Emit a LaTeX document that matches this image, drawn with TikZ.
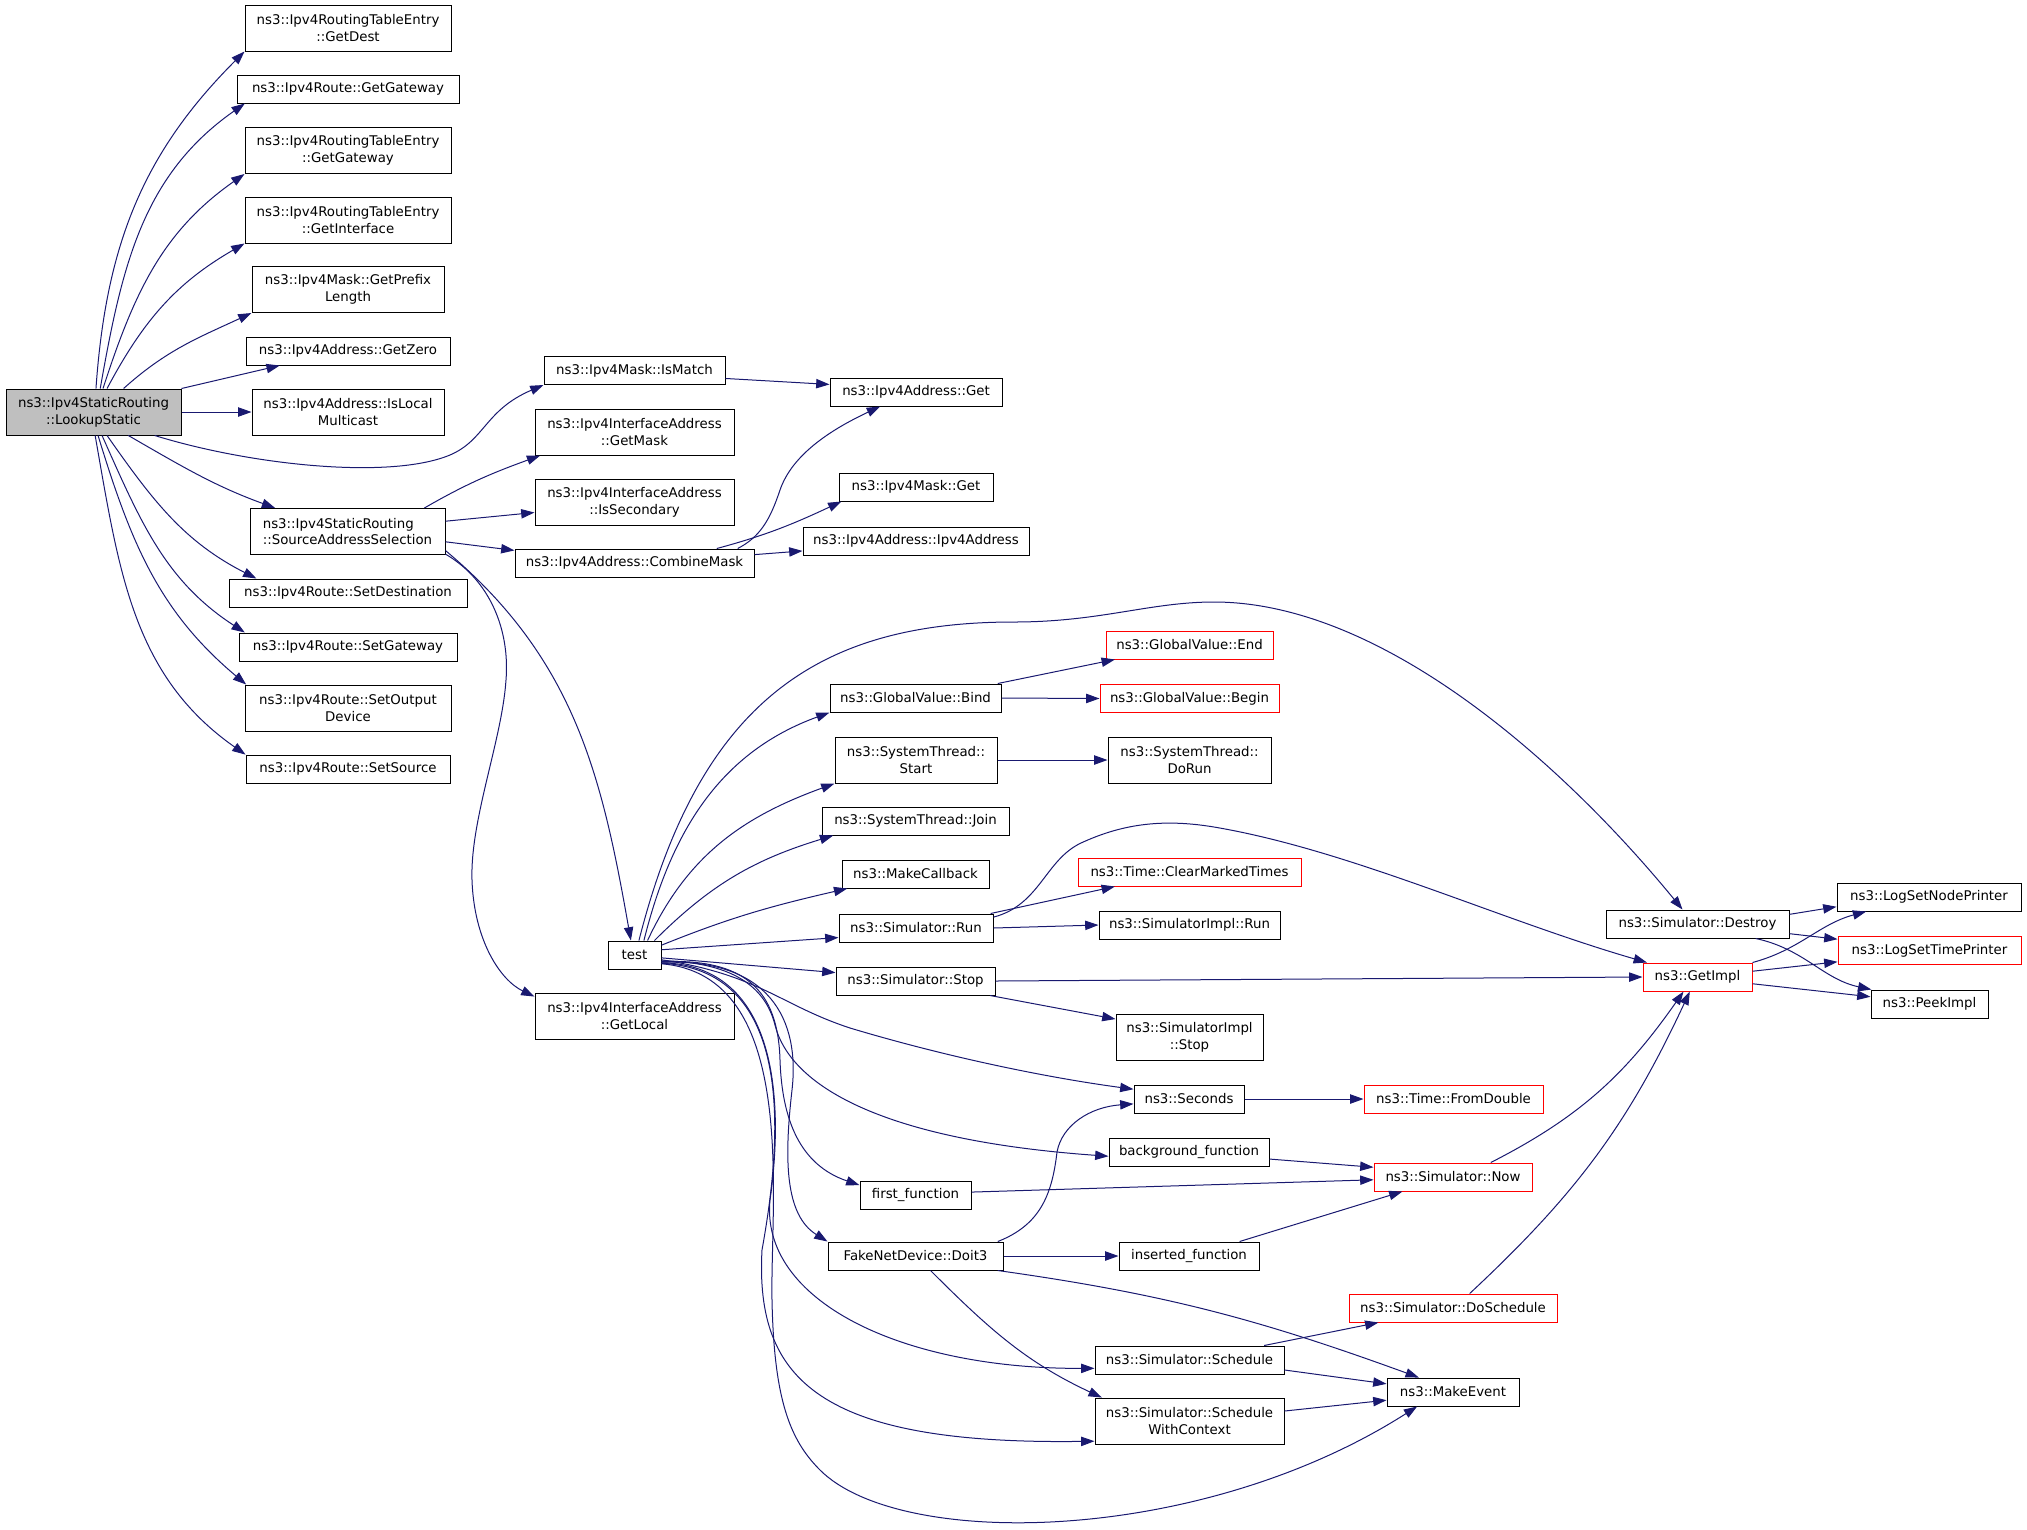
\documentclass[tikz,border=0pt]{standalone}
\usepackage{fontspec}
\setmainfont{DejaVu Sans}
\usetikzlibrary{arrows.meta}
\definecolor{edgeblue}{HTML}{191970}
\definecolor{warnred}{HTML}{FF0000}
\definecolor{rootgray}{HTML}{BFBFBF}
\begin{document}
\begin{tikzpicture}[x=0.75pt,y=0.75pt,
    fn/.style={draw=black,line width=0.75pt,inner sep=0pt,align=center,
      font=\fontsize{10}{12.5}\selectfont,minimum height=21pt},
    two/.style={minimum height=34.5pt},
    bw/.style={minimum width=#1*0.75pt},
    warn/.style={draw=warnred},
    root/.style={fill=rootgray},
    call/.style={draw=edgeblue,line width=0.75pt,-{Triangle[length=10pt,width=7pt]}}]
  \useasboundingbox (0,0) rectangle (2027,-1529);

  \node[fn,root,two,bw=175] (lookup) at (93.5,-412) {ns3::Ipv4StaticRouting\\::LookupStatic};
  \node[fn,two,bw=206] (getdest) at (348,-28) {ns3::Ipv4RoutingTableEntry\\::GetDest};
  \node[fn,bw=222] (rgw) at (348,-89) {ns3::Ipv4Route::GetGateway};
  \node[fn,two,bw=206] (rtegw) at (348,-150.5) {ns3::Ipv4RoutingTableEntry\\::GetGateway};
  \node[fn,two,bw=206] (getif) at (348,-220) {ns3::Ipv4RoutingTableEntry\\::GetInterface};
  \node[fn,two,bw=192] (prefix) at (348,-289.5) {ns3::Ipv4Mask::GetPrefix\\Length};
  \node[fn,bw=204] (getzero) at (348,-351) {ns3::Ipv4Address::GetZero};
  \node[fn,two,bw=192] (islocal) at (348,-412) {ns3::Ipv4Address::IsLocal\\Multicast};
  \node[fn,two,bw=195,align=left] (srcsel) at (347.5,-531.5) {ns3::Ipv4StaticRouting\\::SourceAddressSelection};
  \node[fn,bw=238] (setdest) at (348,-593) {ns3::Ipv4Route::SetDestination};
  \node[fn,bw=218] (setgw) at (348,-647) {ns3::Ipv4Route::SetGateway};
  \node[fn,two,bw=206] (setout) at (348,-708) {ns3::Ipv4Route::SetOutput\\Device};
  \node[fn,bw=204] (setsrc) at (348,-769) {ns3::Ipv4Route::SetSource};

  \node[fn,bw=181] (ismatch) at (634.5,-370.5) {ns3::Ipv4Mask::IsMatch};
  \node[fn,two,bw=199] (getmask) at (634.5,-432) {ns3::Ipv4InterfaceAddress\\::GetMask};
  \node[fn,two,bw=199] (issec) at (634.5,-502) {ns3::Ipv4InterfaceAddress\\::IsSecondary};
  \node[fn,bw=239] (combine) at (634.5,-563) {ns3::Ipv4Address::CombineMask};
  \node[fn,bw=53] (test) at (634.5,-955) {test};
  \node[fn,two,bw=199] (getlocal) at (634.5,-1016) {ns3::Ipv4InterfaceAddress\\::GetLocal};

  \node[fn,bw=172] (addrget) at (916,-392) {ns3::Ipv4Address::Get};
  \node[fn,bw=154] (maskget) at (916,-487) {ns3::Ipv4Mask::Get};
  \node[fn,bw=226] (ipv4addr) at (916,-541) {ns3::Ipv4Address::Ipv4Address};
  \node[fn,bw=171] (bind) at (915.5,-698) {ns3::GlobalValue::Bind};
  \node[fn,two,bw=162] (start) at (916,-760) {ns3::SystemThread::\\Start};
  \node[fn,bw=187] (join) at (915.5,-821) {ns3::SystemThread::Join};
  \node[fn,bw=147] (makecb) at (915.5,-874) {ns3::MakeCallback};
  \node[fn,bw=154] (simrun) at (916,-928) {ns3::Simulator::Run};
  \node[fn,bw=159] (simstop) at (915.5,-981) {ns3::Simulator::Stop};
  \node[fn,bw=111] (first) at (915.5,-1195) {first\_function};
  \node[fn,bw=175] (doit3) at (915.5,-1256) {FakeNetDevice::Doit3};

  \node[fn,warn,bw=167] (gvend) at (1189.5,-645) {ns3::GlobalValue::End};
  \node[fn,warn,bw=179] (gvbegin) at (1189.5,-698.5) {ns3::GlobalValue::Begin};
  \node[fn,two,bw=163] (dorun) at (1189.5,-760) {ns3::SystemThread::\\DoRun};
  \node[fn,warn,bw=223] (clear) at (1189.5,-872) {ns3::Time::ClearMarkedTimes};
  \node[fn,bw=181] (implrun) at (1189.5,-925) {ns3::SimulatorImpl::Run};
  \node[fn,two,bw=147] (implstop) at (1189.5,-1037.5) {ns3::SimulatorImpl\\::Stop};
  \node[fn,bw=110] (seconds) at (1189,-1099) {ns3::Seconds};
  \node[fn,bw=160] (bgfn) at (1189,-1152) {background\_function};
  \node[fn,bw=140] (inserted) at (1189,-1256) {inserted\_function};
  \node[fn,bw=189] (schedule) at (1189.5,-1360) {ns3::Simulator::Schedule};
  \node[fn,two,bw=189] (schedctx) at (1189.5,-1421) {ns3::Simulator::Schedule\\WithContext};

  \node[fn,warn,bw=179] (fromdouble) at (1453.5,-1099) {ns3::Time::FromDouble};
  \node[fn,warn,bw=158] (now) at (1453,-1177) {ns3::Simulator::Now};
  \node[fn,warn,bw=208] (dosched) at (1453,-1308) {ns3::Simulator::DoSchedule};
  \node[fn,bw=132] (makeevent) at (1453,-1392) {ns3::MakeEvent};

  \node[fn,bw=183] (destroy) at (1697.5,-924) {ns3::Simulator::Destroy};
  \node[fn,warn,bw=109] (getimpl) at (1697.5,-977) {ns3::GetImpl};

  \node[fn,bw=184] (nodeprinter) at (1929,-897) {ns3::LogSetNodePrinter};
  \node[fn,warn,bw=183] (timeprinter) at (1929.5,-950.5) {ns3::LogSetTimePrinter};
  \node[fn,bw=117] (peekimpl) at (1929.5,-1004) {ns3::PeekImpl};

  % calls of LookupStatic
  \draw[call] (lookup.84) to[out=86,in=225] (getdest.south west);
  \draw[call] (lookup.74) to[out=80,in=215] (rgw.188);
  \draw[call] (lookup.68) to[out=72,in=215] (rtegw.south west);
  \draw[call] (lookup.60) to[out=62,in=210] (getif.south west);
  \draw[call] (lookup.38) to[out=42,in=205] (prefix.south west);
  \draw[call] (lookup.north east) -- (getzero.192);
  \draw[call] (lookup.east) -- (islocal.west);
  \draw[call] (lookup.-21) .. controls (250,-465) and (390,-480) .. (450,-455)
    .. controls (485,-440) and (485,-410) .. (ismatch.south west);
  \draw[call] (lookup.-34) to[out=-30,in=160] (srcsel.162);
  \draw[call] (lookup.-60) to[out=-55,in=153] (setdest.171);
  \draw[call] (lookup.-70) to[out=-66,in=147] (setgw.172);
  \draw[call] (lookup.-79) to[out=-73,in=140] (setout.167);
  \draw[call] (lookup.-86) to[out=-80,in=145] (setsrc.172);

  % calls of SourceAddressSelection
  \draw[call] (srcsel.17) to[out=30,in=200] (getmask.194);
  \draw[call] (srcsel.6) -- (issec.186);
  \draw[call] (srcsel.-6) -- (combine.174);
  \draw[call] (srcsel.-11) to[out=-40,in=100] (test.104);
  \draw[call] (srcsel.-13) .. controls (490,-580) and (510,-630) .. (506,-680)
    .. controls (502,-740) and (470,-820) .. (472,-880)
    .. controls (474,-940) and (500,-980) .. (getlocal.169);

  \draw[call] (ismatch.-5) -- (addrget.175);
  \draw[call] (combine.10.6) to[out=15,in=205] (maskget.191.5);
  \draw[call] (combine.8.2) .. controls (760,-537) and (770,-520) .. (780,-490)
    .. controls (792,-455) and (830,-430) .. (addrget.202);
  \draw[call] (combine.4.8) -- (ipv4addr.185);

  % calls of test
  \draw[call] (test.73) .. controls (700,-700) and (820,-622) .. (1014,-622)
    .. controls (1100,-622) and (1150,-602) .. (1214,-602)
    .. controls (1380,-602) and (1560,-760) .. (destroy.136);
  \draw[call] (test.57) to[out=76,in=200] (bind.south west);
  \draw[call] (test.48) to[out=65,in=200] (start.south west);
  \draw[call] (test.36) to[out=45,in=197] (join.190);
  \draw[call] (test.20) to[out=22,in=193] (makecb.192);
  \draw[call] (test.11) -- (simrun.187);
  \draw[call] (test.-6) -- (simstop.174);
  \draw[call] (test.-10) .. controls (760,-975) and (780,-1005) .. (850,-1028)
    .. controls (950,-1058) and (1050,-1078) .. (seconds.170);
  \draw[call] (test.-12) .. controls (730,-962) and (765,-985) .. (775,-1025)
    .. controls (790,-1085) and (880,-1140) .. (bgfn.183);
  \draw[call] (test.-14) .. controls (745,-958) and (778,-990) .. (780,-1060)
    .. controls (782,-1120) and (800,-1165) .. (first.170);
  \draw[call] (test.-15) .. controls (770,-958) and (800,-1020) .. (792,-1090)
    .. controls (784,-1160) and (785,-1215) .. (doit3.north west);
  \draw[call] (test.-16) .. controls (790,-965) and (780,-1130) .. (770,-1200)
    .. controls (760,-1300) and (900,-1369) .. (schedule.185);
  \draw[call] (test.-17) .. controls (800,-970) and (780,-1150) .. (762,-1250)
    .. controls (755,-1380) and (820,-1445) .. (schedctx.192);
  \draw[call] (test.-18) .. controls (800,-975) and (770,-1200) .. (772,-1300)
    .. controls (774,-1400) and (790,-1440) .. (820,-1470)
    .. controls (900,-1550) and (1200,-1545) .. (makeevent.202);

  \draw[call] (bind.10.8) -- (gvend.191);
  \draw[call] (bind.east) -- (gvbegin.west);
  \draw[call] (start.east) -- (dorun.west);
  \draw[call] (simrun.11.5) -- (clear.191.6);
  \draw[call] (simrun.8) .. controls (1040,-905) and (1045,-860) .. (1081,-843)
    .. controls (1120,-825) and (1160,-818) .. (1214,-827)
    .. controls (1350,-850) and (1500,-920) .. (getimpl.164.5);
  \draw[call] (simrun.east) -- (implrun.west);
  \draw[call] (simstop.east) -- (getimpl.west);
  \draw[call] (simstop.-11.7) -- (implstop.166.6);
  \draw[call] (seconds.east) -- (fromdouble.west);
  \draw[call] (bgfn.-5.7) -- (now.173.5);
  \draw[call] (first.3) -- (now.182.9);
  \draw[call] (inserted.16.3) -- (now.196.6);
  \draw[call] (doit3.10.1) .. controls (1040,-1225) and (1052,-1195) .. (1057,-1152)
    .. controls (1062,-1125) and (1090,-1107) .. (seconds.185);
  \draw[call] (doit3.east) -- (inserted.west);
  \draw[call] (doit3.-10.1) to[out=-8,in=160] (makeevent.157);
  \draw[call] (doit3.-44) to[out=-45,in=155] (schedctx.165);
  \draw[call] (schedule.11) -- (dosched.191);
  \draw[call] (schedule.-6.6) -- (makeevent.173);
  \draw[call] (schedctx.6.6) -- (makeevent.187);
  \draw[call] (dosched.41) to[out=43,in=245] (getimpl.242);
  \draw[call] (now.21.3) to[out=27,in=235] (getimpl.226);

  \draw[call] (destroy.6.9) -- (nodeprinter.186.2);
  \draw[call] (destroy.-6.9) -- (timeprinter.173.5);
  \draw[call] (destroy.-14.2) to[out=-12,in=168] (peekimpl.166);
  \draw[call] (getimpl.north east) to[out=15,in=195] (nodeprinter.193.8);
  \draw[call] (getimpl.6.3) -- (timeprinter.187.2);
  \draw[call] (getimpl.-7.3) -- (peekimpl.173.2);
\end{tikzpicture}
\end{document}
